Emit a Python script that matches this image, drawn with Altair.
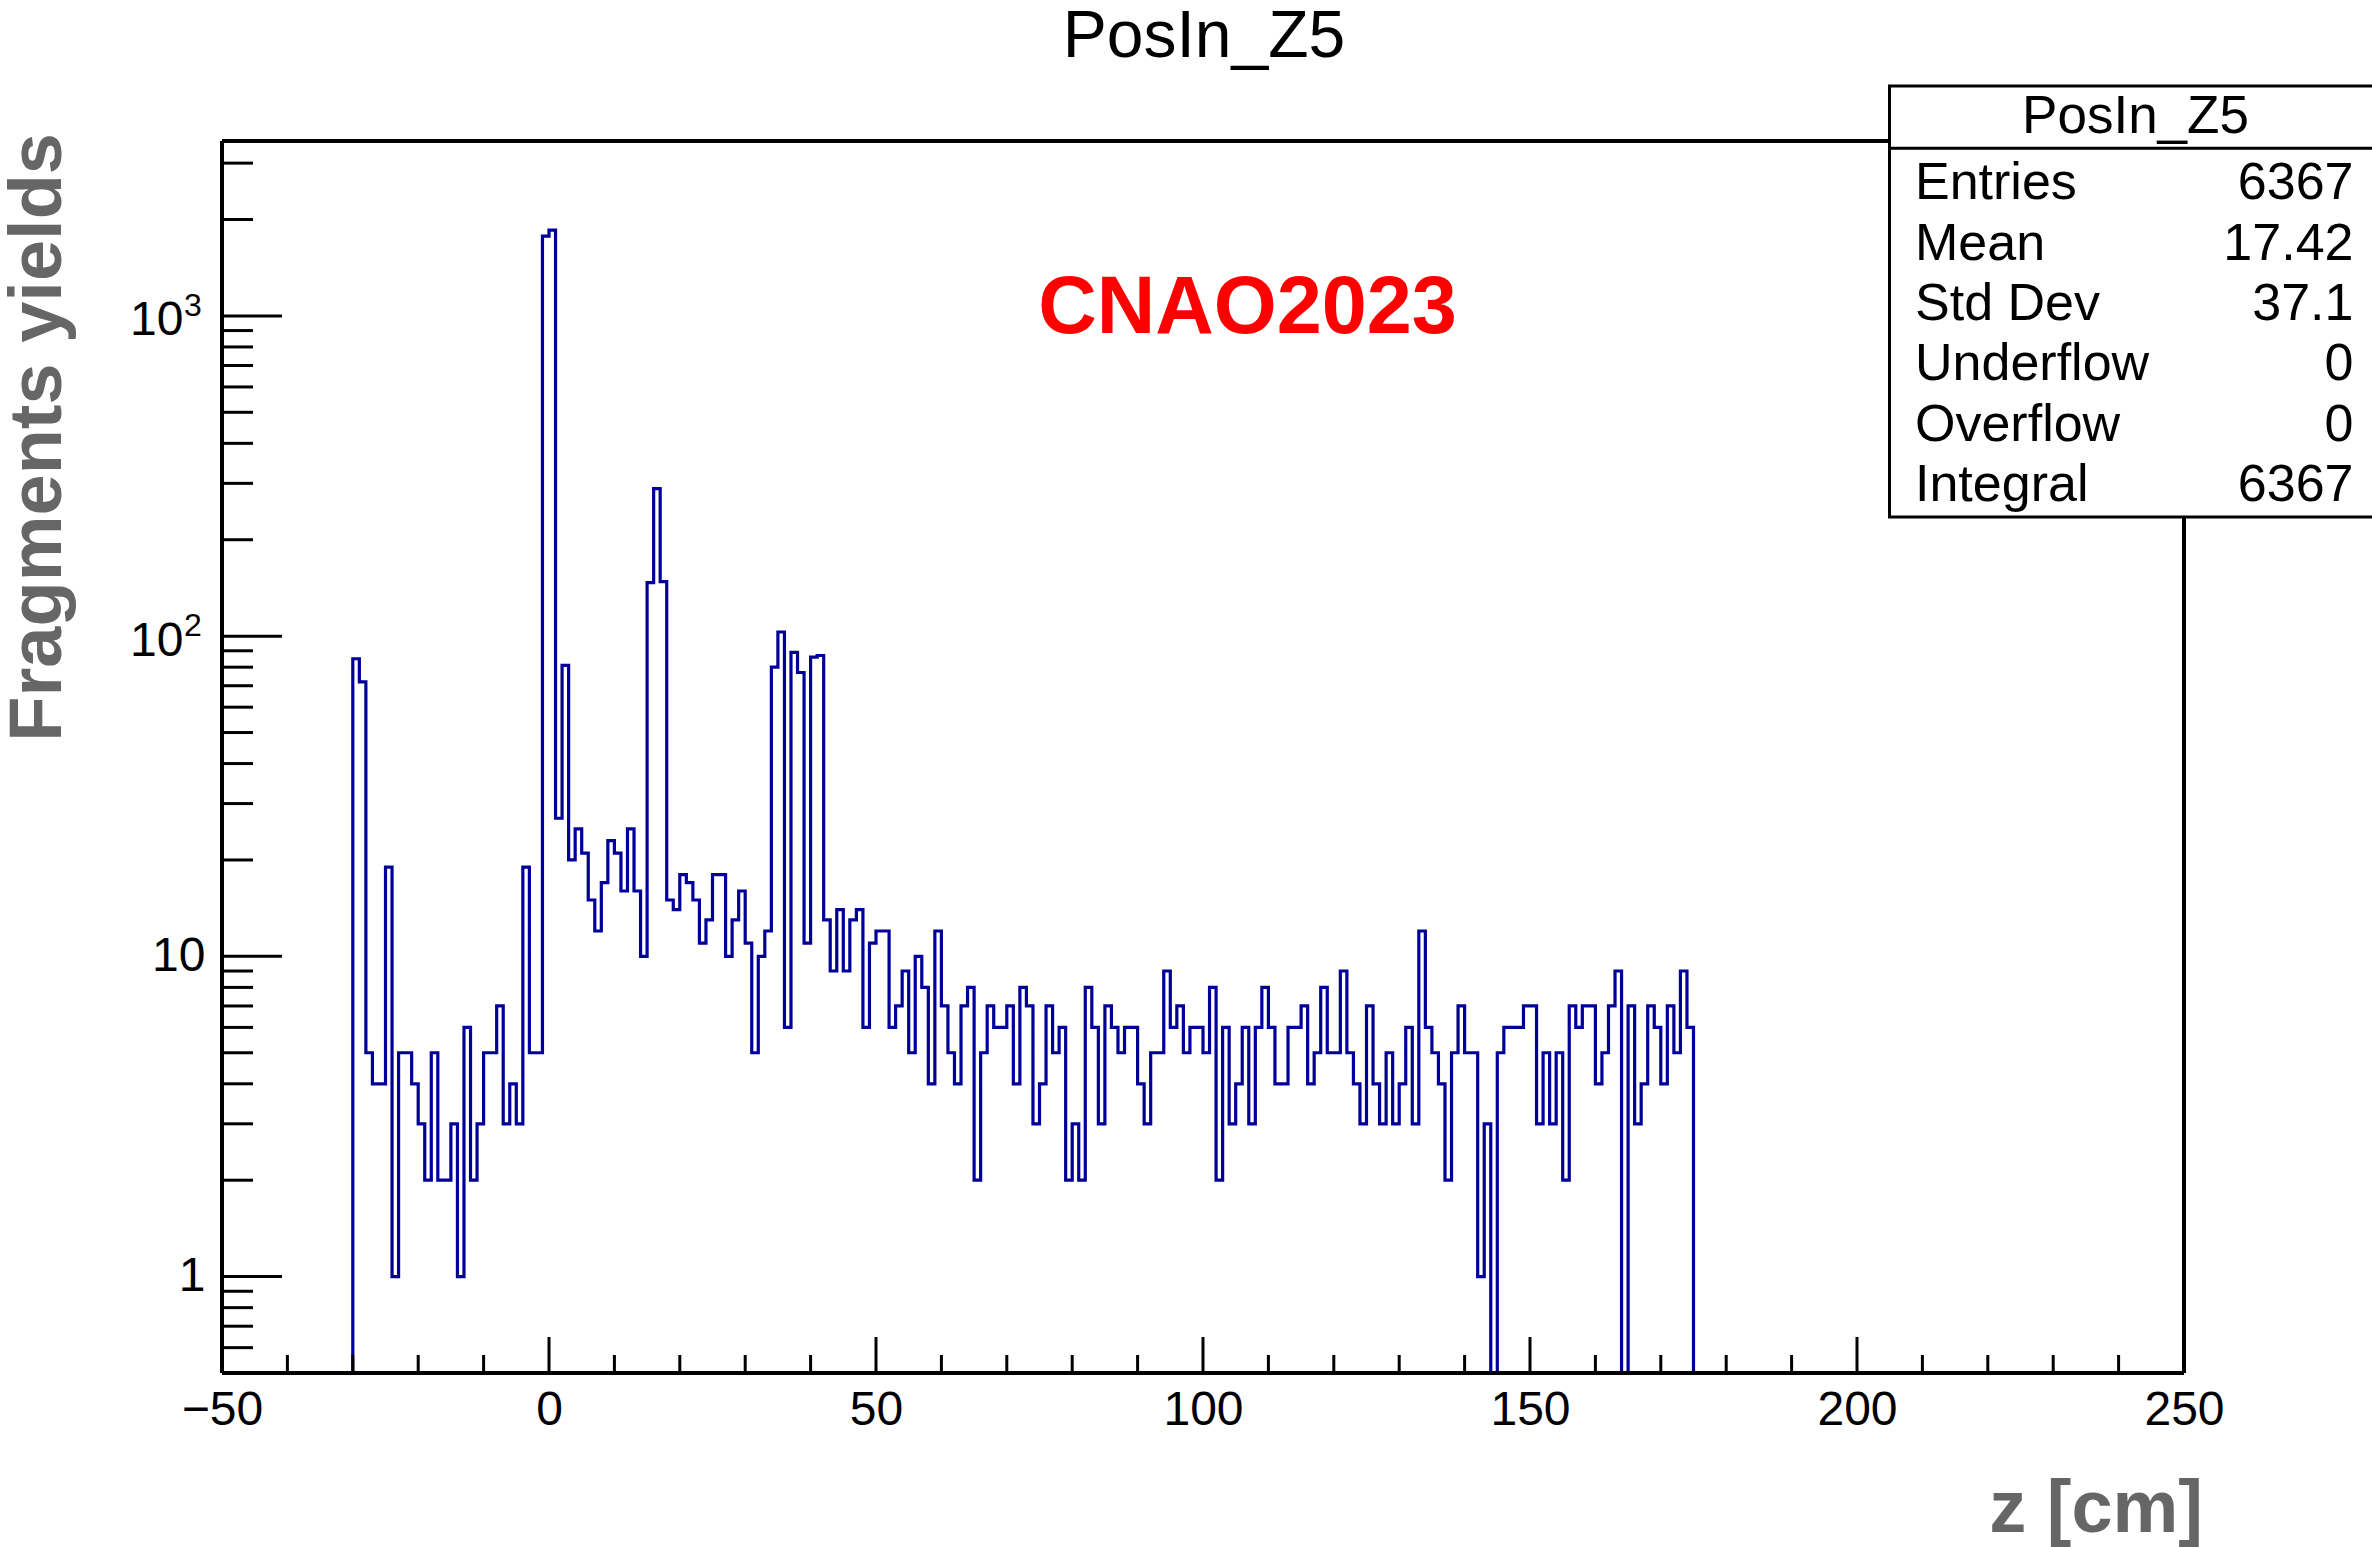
import altair as alt
import pandas as pd

# ---------------- data ----------------
z_first_edge = -30          # left edge of first filled bin [cm]
bin_width = 1               # [cm]
counts_m30_m1 = [85, 72, 5, 4, 4, 19, 1, 5, 5, 4,
                 3, 2, 5, 2, 2, 3, 1, 6, 2, 3,
                 5, 5, 7, 3, 4, 3, 19, 5, 5, 1775]
counts_0_29 = [1853, 27, 81, 20, 25, 21, 15, 12, 17, 23,
               21, 16, 25, 16, 10, 147, 289, 148, 15, 14,
               18, 17, 15, 11, 13, 18, 18, 10, 13, 16]
counts_30_59 = [11, 5, 10, 12, 80, 103, 6, 89, 77, 11,
                86, 87, 13, 9, 14, 9, 13, 14, 6, 11,
                12, 12, 6, 7, 9, 5, 10, 8, 4, 12]
counts_60_89 = [7, 5, 4, 7, 8, 2, 5, 7, 6, 6,
                7, 4, 8, 7, 3, 4, 7, 5, 6, 2,
                3, 2, 8, 6, 3, 7, 6, 5, 6, 6]
counts_90_119 = [4, 3, 5, 5, 9, 6, 7, 5, 6, 6,
                 5, 8, 2, 6, 3, 4, 6, 3, 6, 8,
                 6, 4, 4, 6, 6, 7, 4, 5, 8, 5]
counts_120_149 = [5, 9, 5, 4, 3, 7, 4, 3, 5, 3,
                  4, 6, 3, 12, 6, 5, 4, 2, 5, 7,
                  5, 5, 1, 3, 0, 5, 6, 6, 6, 7]
counts_150_174 = [7, 3, 5, 3, 5, 2, 7, 6, 7, 7,
                  4, 5, 7, 9, 0, 7, 3, 4, 7, 6,
                  4, 7, 5, 9, 6]

x_domain = [-50, 250]
y_domain = [0.5, 3517]
x_label_values = [-50, 0, 50, 100, 150, 200, 250]
x_minor_values = [v for v in range(-40, 250, 10) if v % 50 != 0]
y_label_values = [1, 10, 100, 1000]
y_exp_values = [100, 1000]
y_exp_labels = ["2", "3"]
y_minor_values = [0.6, 0.7, 0.8, 0.9,
                  2, 3, 4, 5, 6, 7, 8, 9,
                  20, 30, 40, 50, 60, 70, 80, 90,
                  200, 300, 400, 500, 600, 700, 800, 900,
                  2000, 3000]

title_text = "PosIn_Z5"
x_title = "z [cm]"
y_title = "Fragments yields"
tag_text = "CNAO2023"
stats_names = ["Entries", "Mean", "Std Dev", "Underflow", "Overflow", "Integral"]
stats_values = ["6367", "17.42", "37.1", "0", "0", "6367"]

# ---------------- build histogram outline table ----------------
counts = (counts_m30_m1 + counts_0_29 + counts_30_59 + counts_60_89
          + counts_90_119 + counts_120_149 + counts_150_174)
edges = [z_first_edge + i * bin_width for i in range(len(counts))]
pts_z = [edges[0]] + edges + [edges[-1] + bin_width]
pts_n = [0] + counts + [0]
hist_df = pd.DataFrame({"z": pts_z, "n": pts_n, "order": list(range(len(pts_z)))})

# ---------------- layout ----------------
W, H = 1962, 1232
PAD_L, PAD_T = 222, 141
FONT = "Liberation Sans"
FRAME_W = 4
TICK_W = 3
HIST_W = 3.2

xscale = alt.Scale(domain=x_domain, nice=False, zero=False)
yscale = alt.Scale(type="log", domain=y_domain, nice=False)
x_axis = alt.Axis(values=x_label_values, ticks=False, domain=False, grid=False,
                  labelFont=FONT, labelFontSize=48, labelColor="black",
                  labelPadding=13, labelFlush=False, labelOverlap=False,
                  labelBaseline="top", title="")
y_axis = alt.Axis(values=y_label_values, ticks=False, domain=False, grid=False,
                  labelFont=FONT, labelFontSize=48, labelColor="black",
                  labelPadding={"condition": {"test": "datum.value >= 100", "value": 39}, "value": 17},
                  labelOffset={"condition": {"test": "datum.value >= 100", "value": 5}, "value": 0},
                  labelFlush=False, labelOverlap=False,
                  labelExpr="datum.value >= 10 ? '10' : '1'",
                  title="")
one = pd.DataFrame({"a": [0]})

hist = alt.Chart(hist_df).transform_calculate(
    yv="max(datum.n, 0.5)"
).mark_line(interpolate="step-after", color="#000099", strokeWidth=HIST_W).encode(
    x=alt.X("z:Q", scale=xscale, axis=x_axis),
    y=alt.Y("yv:Q", scale=yscale, axis=y_axis),
    order="order:Q",
)

ytick_major = alt.Chart(pd.DataFrame({"yv": y_label_values})).mark_rule(
    color="black", strokeWidth=TICK_W).encode(
    y=alt.Y("yv:Q", scale=yscale, axis=y_axis), x=alt.value(0), x2=alt.value(60))
ytick_minor = alt.Chart(pd.DataFrame({"yv": y_minor_values})).mark_rule(
    color="black", strokeWidth=TICK_W).encode(
    y=alt.Y("yv:Q", scale=yscale, axis=y_axis), x=alt.value(0), x2=alt.value(31))
xtick_major = alt.Chart(pd.DataFrame({"z": x_label_values})).mark_rule(
    color="black", strokeWidth=TICK_W).encode(
    x=alt.X("z:Q", scale=xscale, axis=x_axis), y=alt.value(H), y2=alt.value(H - 36))
xtick_minor = alt.Chart(pd.DataFrame({"z": x_minor_values})).mark_rule(
    color="black", strokeWidth=TICK_W).encode(
    x=alt.X("z:Q", scale=xscale, axis=x_axis), y=alt.value(H), y2=alt.value(H - 18))

# exponents of the 10^n axis labels
y_exps = alt.Chart(pd.DataFrame({"yv": y_exp_values, "s": y_exp_labels})).mark_text(
    font=FONT, fontSize=32, align="right", baseline="alphabetic", color="black").encode(
    y=alt.Y("yv:Q", scale=yscale, axis=y_axis), x=alt.value(-20.3), text="s:N")

frame = [
    alt.Chart(one).mark_rule(color="black", strokeWidth=FRAME_W).encode(
        x=alt.value(0), x2=alt.value(W), y=alt.value(0)),
    alt.Chart(one).mark_rule(color="black", strokeWidth=FRAME_W).encode(
        x=alt.value(0), x2=alt.value(W), y=alt.value(H)),
    alt.Chart(one).mark_rule(color="black", strokeWidth=FRAME_W).encode(
        x=alt.value(0), y=alt.value(0), y2=alt.value(H)),
    alt.Chart(one).mark_rule(color="black", strokeWidth=FRAME_W).encode(
        x=alt.value(W), y=alt.value(0), y2=alt.value(H)),
]

# stats box
BX0, BX1, BY0, BY1 = 1667.5, 2172, -55, 376
stats_box = alt.Chart(one).mark_rect(fill="white", stroke="black", strokeWidth=3).encode(
    x=alt.value(BX0), x2=alt.value(BX1), y=alt.value(BY0), y2=alt.value(BY1))
stats_sep = alt.Chart(one).mark_rule(color="black", strokeWidth=3).encode(
    x=alt.value(BX0), x2=alt.value(BX1), y=alt.value(7.3))
stats_head = alt.Chart(one).mark_text(
    text=title_text, font=FONT, fontSize=53, align="center", baseline="alphabetic",
    color="black").encode(x=alt.value(1913.5), y=alt.value(-8))
stats_rows = []
for i, (nm, val) in enumerate(zip(stats_names, stats_values)):
    yy = 58.3 + 60.3 * i
    stats_rows.append(alt.Chart(one).mark_text(
        text=nm, font=FONT, fontSize=52, align="left", baseline="alphabetic",
        color="black").encode(x=alt.value(1693), y=alt.value(yy)))
    stats_rows.append(alt.Chart(one).mark_text(
        text=val, font=FONT, fontSize=52, align="right", baseline="alphabetic",
        color="black").encode(x=alt.value(2131.5), y=alt.value(yy)))

main_title = alt.Chart(one).mark_text(
    text=title_text, font=FONT, fontSize=66, align="center", baseline="alphabetic",
    color="black").encode(x=alt.value(982), y=alt.value(-84.5))
tag = alt.Chart(one).mark_text(
    text=tag_text, font=FONT, fontSize=81, fontWeight="bold", align="center",
    baseline="alphabetic", color="#ff0000").encode(x=alt.value(1025.5), y=alt.value(192))
xt = alt.Chart(one).mark_text(
    text=x_title, font=FONT, fontSize=74, fontWeight="bold", align="right",
    baseline="alphabetic", color="#666666").encode(x=alt.value(1981), y=alt.value(1391))
yt = alt.Chart(one).mark_text(
    text=y_title, font=FONT, fontSize=74, fontWeight="bold", align="right",
    baseline="alphabetic", angle=270, color="#666666").encode(
    x=alt.value(-161), y=alt.value(-8))

chart = alt.layer(
    hist, ytick_major, ytick_minor, xtick_major, xtick_minor, y_exps, *frame,
    stats_box, stats_sep, stats_head, *stats_rows,
    main_title, tag, xt, yt,
).properties(
    width=W, height=H,
    autosize=alt.AutoSizeParams(type="none"),
    padding={"left": PAD_L, "top": PAD_T, "right": 2372 - PAD_L - W, "bottom": 1547 - PAD_T - H},
    background="white",
).configure_view(strokeWidth=0)

chart.save("out.html", embed_options={"renderer": "svg", "actions": False})
